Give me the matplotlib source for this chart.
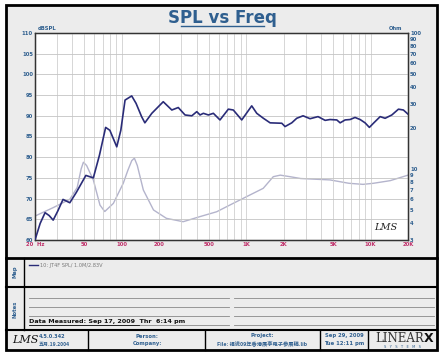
import matplotlib
matplotlib.use("Agg")
import matplotlib.pyplot as plt
from matplotlib.patches import Rectangle
from matplotlib.lines import Line2D
from matplotlib.ticker import FixedLocator, NullFormatter

plt.rcParams['font.family'] = ['DejaVu Sans', 'Noto Sans CJK SC']

# SPL curve (Hz, dB)
spl_freq = [20, 22, 24.1, 26, 28.0, 30.5, 33.6, 38.1, 43, 51.3, 58.9, 66, 74.0, 80, 90.9,
            98, 106, 119.9, 130, 144,
            153, 174, 215, 252, 284, 322, 365, 400, 425, 452, 496, 544, 615, 718,
            787, 920, 1107, 1215, 1374, 1556, 1932, 2052, 2323, 2547, 2864, 3260,
            3780, 4310, 4720, 5350, 5690, 6240, 6840, 7500, 8240, 9030, 9780,
            10540, 11940, 13090, 14820, 16760, 18370, 20000]
spl_db = [60.0, 64.0, 66.6, 65.9, 64.8, 67.0, 69.8, 69.0, 71.5, 75.6, 75.0, 80.5, 87.2, 86.5, 82.5,
          86.5, 93.8, 94.8, 93.0, 89.8,
          88.3, 90.6, 93.4, 91.4, 92.0, 90.2, 90.0, 91.0, 90.2, 90.6, 90.2, 90.6, 89.0, 91.6,
          91.4, 89.0, 92.4, 90.6, 89.4, 88.3, 88.2, 87.4, 88.3, 89.4, 90.0, 89.3,
          89.8, 88.9, 89.1, 89.0, 88.3, 89.0, 89.1, 89.6, 89.1, 88.3, 87.2,
          88.2, 89.8, 89.4, 90.2, 91.6, 91.4, 90.4]

# Impedance curve (Hz, Ohm)
imp_freq = [20, 28.0, 38.1, 43.7, 47, 49.0, 52, 58.9, 66.6, 72.8, 85.4, 102.5, 111.8, 120, 126,
            133, 148.7, 179.5, 228, 311, 425, 578, 785, 1070, 1370, 1650, 1880, 2247,
            2740, 4720, 6700, 8700, 10540, 14400, 20000]
imp_ohm = [4.5, 5.19, 5.98, 7.3, 10.0, 11.2, 10.6, 8.3, 5.42, 4.86, 5.58, 7.84, 9.8, 11.5, 12.0,
           10.6, 7.0, 4.99, 4.33, 4.09, 4.46, 4.84, 5.58, 6.43, 7.2, 8.77, 9.0, 8.77,
           8.5, 8.3, 7.84, 7.7, 7.84, 8.2, 9.0]

db_ticks = [60, 65, 70, 75, 80, 85, 90, 95, 100, 105, 110]
ohm_ticks = [3, 4, 5, 6, 7, 8, 9, 10, 20, 30, 40, 50, 60, 70, 80, 90, 100]
freq_ticks = [20, 50, 100, 200, 500, 1000, 2000, 5000, 10000, 20000]
freq_labels = ['20  Hz', '50', '100', '200', '500', '1K', '2K', '5K', '10K', '20K']

W, H = 445, 356
BLUE = '#2f5f8f'
PINK = '#c0306a'
PANEL = '#ececec'

fig = plt.figure(figsize=(W / 100, H / 100), dpi=100)
fig.patch.set_facecolor('white')


def fx(x):
    return x / W


def fy(y):
    return 1 - y / H


def rect(x0, y0, x1, y1, fc='none', lw=1.5, z=-1):
    fig.add_artist(Rectangle((fx(x0), fy(y1)), fx(x1) - fx(x0), fy(y0) - fy(y1),
                             transform=fig.transFigure, facecolor=fc,
                             edgecolor='black', linewidth=lw, zorder=z))


def hline(y, x0, x1, color='black', lw=1.5):
    fig.add_artist(Line2D([fx(x0), fx(x1)], [fy(y), fy(y)], transform=fig.transFigure,
                          color=color, linewidth=lw))


def vline(x, y0, y1, color='black', lw=1.5):
    fig.add_artist(Line2D([fx(x), fx(x)], [fy(y0), fy(y1)], transform=fig.transFigure,
                          color=color, linewidth=lw))


def text(x, y, s, **kw):
    fig.text(fx(x), fy(y), s, **kw)


# panels
rect(6, 5, 437, 350, fc=PANEL, lw=2)
hline(258, 6, 437, lw=2)
hline(287, 6, 437, lw=1.5)
hline(330, 6, 437, lw=1.5)
vline(24, 258, 330, lw=1)
for xv in [88, 205, 320, 368]:
    vline(xv, 330, 350, lw=1)

# main plot
ax = fig.add_axes([fx(35), fy(240), (408 - 35) / W, (240 - 33) / H])
ax.set_xscale('log')
ax.set_xlim(20, 20000)
ax.set_ylim(60, 110)
ax.set_yticks(db_ticks)
ax.set_yticklabels([str(t) for t in db_ticks], fontsize=3.8, color=BLUE, fontweight='bold')
ax.set_xticks(freq_ticks)
ax.set_xticklabels(freq_labels, fontsize=3.8, color=PINK, fontweight='bold')
ax.xaxis.set_minor_locator(FixedLocator([m * d for d in [10, 100, 1000, 10000]
                                         for m in range(2, 10) if 20 <= m * d <= 20000]))
ax.xaxis.set_minor_formatter(NullFormatter())
ax.tick_params(axis='both', which='both', length=0, pad=1.5)
ax.grid(True, which='both', axis='x', color='#d0d0d0', linewidth=0.6)
ax.grid(True, which='major', axis='y', color='#c4c4c4', linewidth=0.6)
for s in ax.spines.values():
    s.set_linewidth(1.0)
    s.set_color('#333333')

ax2 = ax.twinx()
ax2.set_yscale('log')
ax2.set_ylim(3, 100)
ax2.yaxis.set_major_locator(FixedLocator(ohm_ticks))
ax2.yaxis.set_minor_locator(FixedLocator([]))
ax2.set_yticklabels([str(t) for t in ohm_ticks], fontsize=3.8, color=BLUE, fontweight='bold')
ax2.tick_params(axis='y', which='both', length=0, pad=1.5)

ax2.plot(imp_freq, imp_ohm, color='#b4b4cc', linewidth=1.0)
ax.plot(spl_freq, spl_db, color='#2a2c78', linewidth=1.2, zorder=5)
ax2.set_zorder(1)
ax.set_zorder(2)
ax.patch.set_visible(False)
ax2.patch.set_visible(True)
ax2.patch.set_facecolor('white')

ax.text(0.97, 0.04, 'LMS', transform=ax.transAxes, ha='right', va='bottom',
        fontsize=7, fontstyle='italic', color='#222222', family='DejaVu Serif')

text(38, 29, 'dBSPL', fontsize=3.8, color=BLUE, fontweight='bold', va='center')
text(402, 29, 'Ohm', fontsize=3.8, color=BLUE, fontweight='bold', ha='right', va='center')

# title
text(222, 18, 'SPL vs Freq', fontsize=12, color=BLUE, fontweight='bold', ha='center', va='center')
hline(26, 181, 264, color=BLUE, lw=1)

# map panel
text(15, 272, 'Map', fontsize=3.8, color=BLUE, fontweight='bold', rotation=90, ha='center', va='center')
hline(265, 29, 38, color='#2a2c78', lw=1)
text(40, 265, '10: JT4F SPL/ 1.0M/2.83V', fontsize=3.6, color='#777777', va='center')

# notes panel
text(15, 309, 'Notes', fontsize=3.8, color=BLUE, fontweight='bold', rotation=90, ha='center', va='center')
for yv in [297.5, 306.5, 316, 324.5]:
    hline(yv, 29, 229, color='#888888', lw=0.6)
    hline(yv, 234, 434, color='#888888', lw=0.6)
text(29, 321.5, 'Data Measured: Sep 17, 2009  Thr  6:14 pm', fontsize=4.6, color='#111111',
     va='center', fontweight='bold')
hline(324.5, 29, 139, color='#111111', lw=0.6)

# footer
text(12, 340, 'LMS', fontsize=8, fontstyle='italic', color='#111111', va='center', family='DejaVu Serif')
text(39, 336, '4.5.0.342', fontsize=3.6, color=BLUE, va='center', fontweight='bold')
text(39, 344, '五月.19.2004', fontsize=3.6, color=BLUE, va='center', fontweight='bold',
     family=['Noto Sans CJK SC', 'DejaVu Sans'])
text(147, 336, 'Person:', fontsize=3.8, color=BLUE, ha='center', va='center', fontweight='bold')
text(147, 344, 'Company:', fontsize=3.8, color=BLUE, ha='center', va='center', fontweight='bold')
text(262, 336, 'Project:', fontsize=3.8, color=BLUE, ha='center', va='center', fontweight='bold')
text(262, 344, 'File: 福说09年香港展亭电子参展稿.lib', fontsize=3.8, color=BLUE, ha='center',
     va='center', fontweight='bold', family=['Noto Sans CJK SC', 'DejaVu Sans'])
text(344, 336, 'Sep 29, 2009', fontsize=3.8, color=BLUE, ha='center', va='center', fontweight='bold')
text(344, 344, 'Tue 12:11 pm', fontsize=3.8, color=BLUE, ha='center', va='center', fontweight='bold')
text(400, 338, 'LINEAR', fontsize=8.5, color='#333333', ha='center', va='center',
     family='DejaVu Serif')
text(429, 338, 'X', fontsize=9, color='#111111', ha='center', va='center', fontweight='bold')
text(402, 347, 'S   Y   S   T   E   M   S', fontsize=2.6, color=BLUE, ha='center', va='center')

fig.savefig('out.png', dpi=100)
